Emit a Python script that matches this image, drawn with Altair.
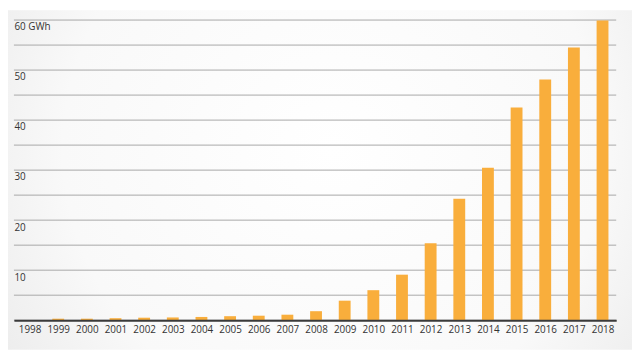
import altair as alt
import pandas as pd

years = list(range(1999, 2019))
gwh = [0.3, 0.3, 0.4, 0.5, 0.55, 0.65, 0.8, 0.9, 1.1, 1.8,
       3.9, 6.0, 9.1, 15.4, 24.3, 30.5, 42.5, 48.1, 54.5, 59.9]
year_ticks = list(range(1998, 2019))
grid_vals = list(range(0, 61, 5))

df = pd.DataFrame({"year": years, "gwh": gwh})
grid_df = pd.DataFrame({"v": grid_vals})

W, H = 610, 304
FONT = "Open Sans"

xscale = alt.Scale(domain=[1997.627, 2018.305], nice=False, zero=False)
yscale = alt.Scale(domain=[0, 60], nice=False)

yaxis = alt.Axis(values=grid_vals, title=None, grid=False, domain=False,
                 ticks=False, labelAlign="left", labelBaseline="top",
                 labelPadding=0, labelOffset=2, labelFontSize=10,
                 labelColor="#333333", labelFont=FONT, zindex=1,
                 labelOverlap=False,
                 labelExpr="datum.value == 60 ? '60 GWh' : (datum.value % 10 == 0 && datum.value > 0 ? datum.label : '')")

bg = alt.Chart(pd.DataFrame({"a": [0]})).mark_rect(
    color={
        "gradient": "radial",
        "x1": 0.52, "y1": 0.45, "r1": 0,
        "x2": 0.52, "y2": 0.45, "r2": 0.72,
        "stops": [
            {"offset": 0, "color": "#ffffff"},
            {"offset": 0.6, "color": "#f9f9f9"},
            {"offset": 1, "color": "#e6e6e6"},
        ],
    }
).encode(
    x=alt.value(-6), x2=alt.value(W + 16),
    y=alt.value(-10), y2=alt.value(H + 30),
)

grid = alt.Chart(grid_df).mark_rule(color="#a8a8a8", strokeWidth=1).encode(
    y=alt.Y("v:Q", scale=yscale, axis=yaxis),
    x=alt.value(0), x2=alt.value(W),
)

bars = alt.Chart(df).mark_bar(size=12, color="#f9ae3c").encode(
    x=alt.X("year:Q", scale=xscale,
            axis=alt.Axis(values=year_ticks, format="d", title=None, grid=False,
                          ticks=False, domainColor="#3a3a3a", domainWidth=2,
                          labelPadding=4, labelFontSize=10, labelColor="#333333",
                          labelFont=FONT, zindex=1)),
    y=alt.Y("gwh:Q", scale=yscale, axis=yaxis),
)

chart = alt.layer(bg, grid, bars).properties(
    width=W, height=H,
    autosize="none",
    padding={"left": 6, "top": 10, "right": 16, "bottom": 30},
).configure_view(stroke=None)

chart.save("out.html", embed_options={"renderer": "svg", "actions": False})
